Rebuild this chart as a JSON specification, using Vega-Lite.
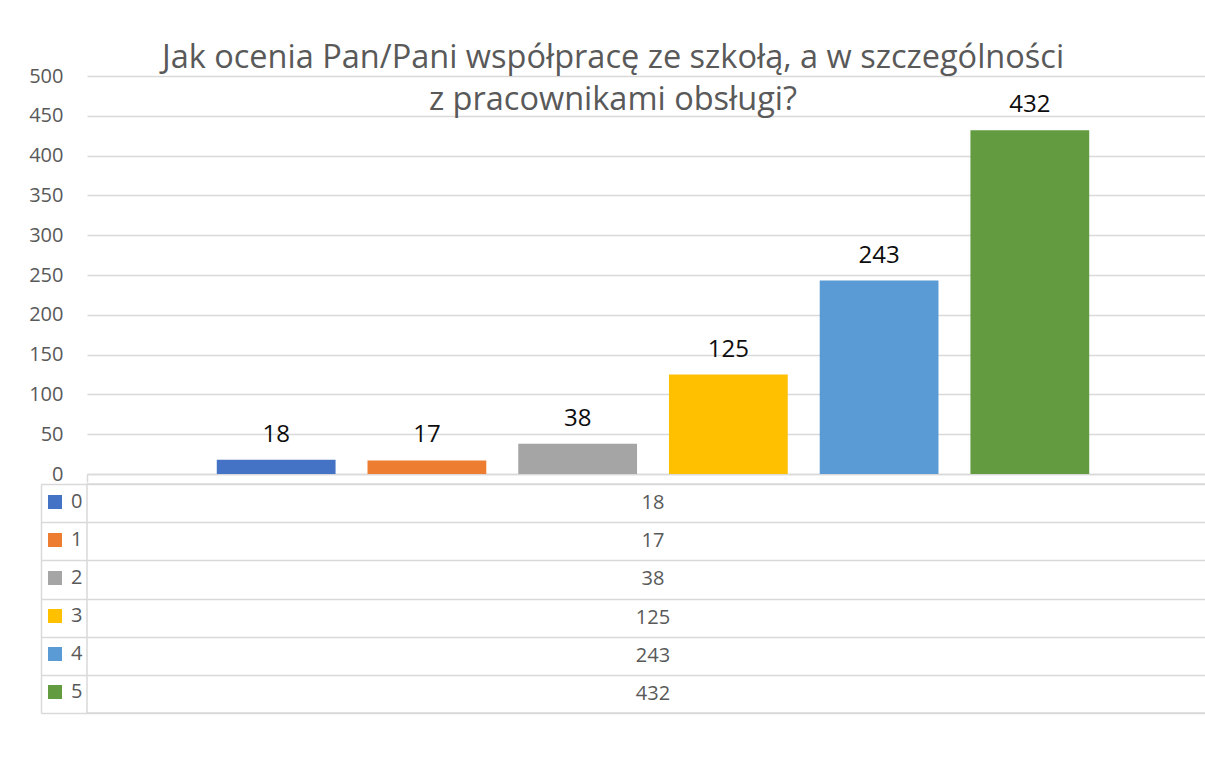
{
  "$schema": "https://vega.github.io/schema/vega-lite/v6.json",
  "padding": {"left": 28, "top": 41, "right": 0, "bottom": 0},
  "background": "white",
  "config": {
    "font": "Open Sans",
    "view": {"stroke": null},
    "concat": {"spacing": -3}
  },
  "datasets": {
    "d": [
      {"grupa": "ocena", "series": "0", "value": 18},
      {"grupa": "ocena", "series": "1", "value": 17},
      {"grupa": "ocena", "series": "2", "value": 38},
      {"grupa": "ocena", "series": "3", "value": 125},
      {"grupa": "ocena", "series": "4", "value": 243},
      {"grupa": "ocena", "series": "5", "value": 432}
    ]
  },
  "vconcat": [
    {
      "width": 1132,
      "height": 398,
      "title": {
        "text": ["Jak ocenia Pan/Pani współpracę ze szkołą, a w szczególności", "z pracownikami obsługi?"],
        "fontSize": 32.5,
        "fontWeight": "normal",
        "color": "#595959",
        "lineHeight": 42,
        "anchor": "middle",
        "frame": "group",
        "offset": -50,
        "dx": -40
      },
      "data": {"name": "d"},
      "encoding": {
        "x": {
          "field": "grupa", "type": "nominal",
          "scale": {"paddingInner": 0, "paddingOuter": 0},
          "axis": {"title": null, "labels": false, "tickBand": "extent", "tickSize": 8, "minExtent": 8, "maxExtent": 8, "tickColor": "#D9D9D9", "tickWidth": 1.5, "domainColor": "#D9D9D9", "domainWidth": 1.5, "grid": false}
        },
        "xOffset": {
          "field": "series", "type": "nominal",
          "scale": {"paddingInner": 0.212, "paddingOuter": 0.861}
        },
        "y": {
          "field": "value", "type": "quantitative",
          "scale": {"domain": [0, 500]},
          "axis": {"title": null, "values": [0, 50, 100, 150, 200, 250, 300, 350, 400, 450, 500], "domain": false, "ticks": false, "labelPadding": 24, "labelFontSize": 20, "labelColor": "#595959", "gridColor": "#D9D9D9", "gridWidth": 1.5}
        }
      },
      "layer": [
        {
          "mark": {"type": "bar"},
          "encoding": {
            "color": {
              "field": "series", "type": "nominal",
              "scale": {"domain": ["0", "1", "2", "3", "4", "5"], "range": ["#4472C4", "#ED7D31", "#A5A5A5", "#FFC000", "#5B9BD5", "#629B40"]},
              "legend": {
                "orient": "none", "legendX": -42, "legendY": 416,
                "direction": "vertical", "title": null,
                "symbolType": "square", "symbolSize": 196, "symbolStrokeWidth": 0,
                "labelFontSize": 20, "labelColor": "#595959", "labelOffset": 6,
                "rowPadding": 18, "padding": 0
              }
            }
          }
        },
        {
          "mark": {"type": "text", "fontSize": 24, "color": "#0d0d0d", "baseline": "alphabetic", "dy": -18},
          "encoding": {"text": {"field": "value", "type": "quantitative"}}
        }
      ]
    },
    {
      "width": 1132,
      "height": 229,
      "view": {"stroke": "#D9D9D9", "strokeWidth": 1.5},
      "data": {"name": "d"},
      "mark": {"type": "text", "fontSize": 20, "color": "#595959", "baseline": "middle"},
      "encoding": {
        "x": {"field": "grupa", "type": "nominal", "scale": {"paddingInner": 0, "paddingOuter": 0}, "axis": null},
        "y": {
          "field": "series", "type": "nominal",
          "scale": {"paddingInner": 0, "paddingOuter": 0},
          "axis": {"title": null, "labels": false, "tickBand": "extent", "grid": true, "gridColor": "#D9D9D9", "gridWidth": 1.5, "domainColor": "#D9D9D9", "domainWidth": 1.5, "tickColor": "#D9D9D9", "tickWidth": 1.5, "offset": 46, "tickSize": -46}
        },
        "text": {"field": "value", "type": "quantitative"}
      }
    }
  ]
}
